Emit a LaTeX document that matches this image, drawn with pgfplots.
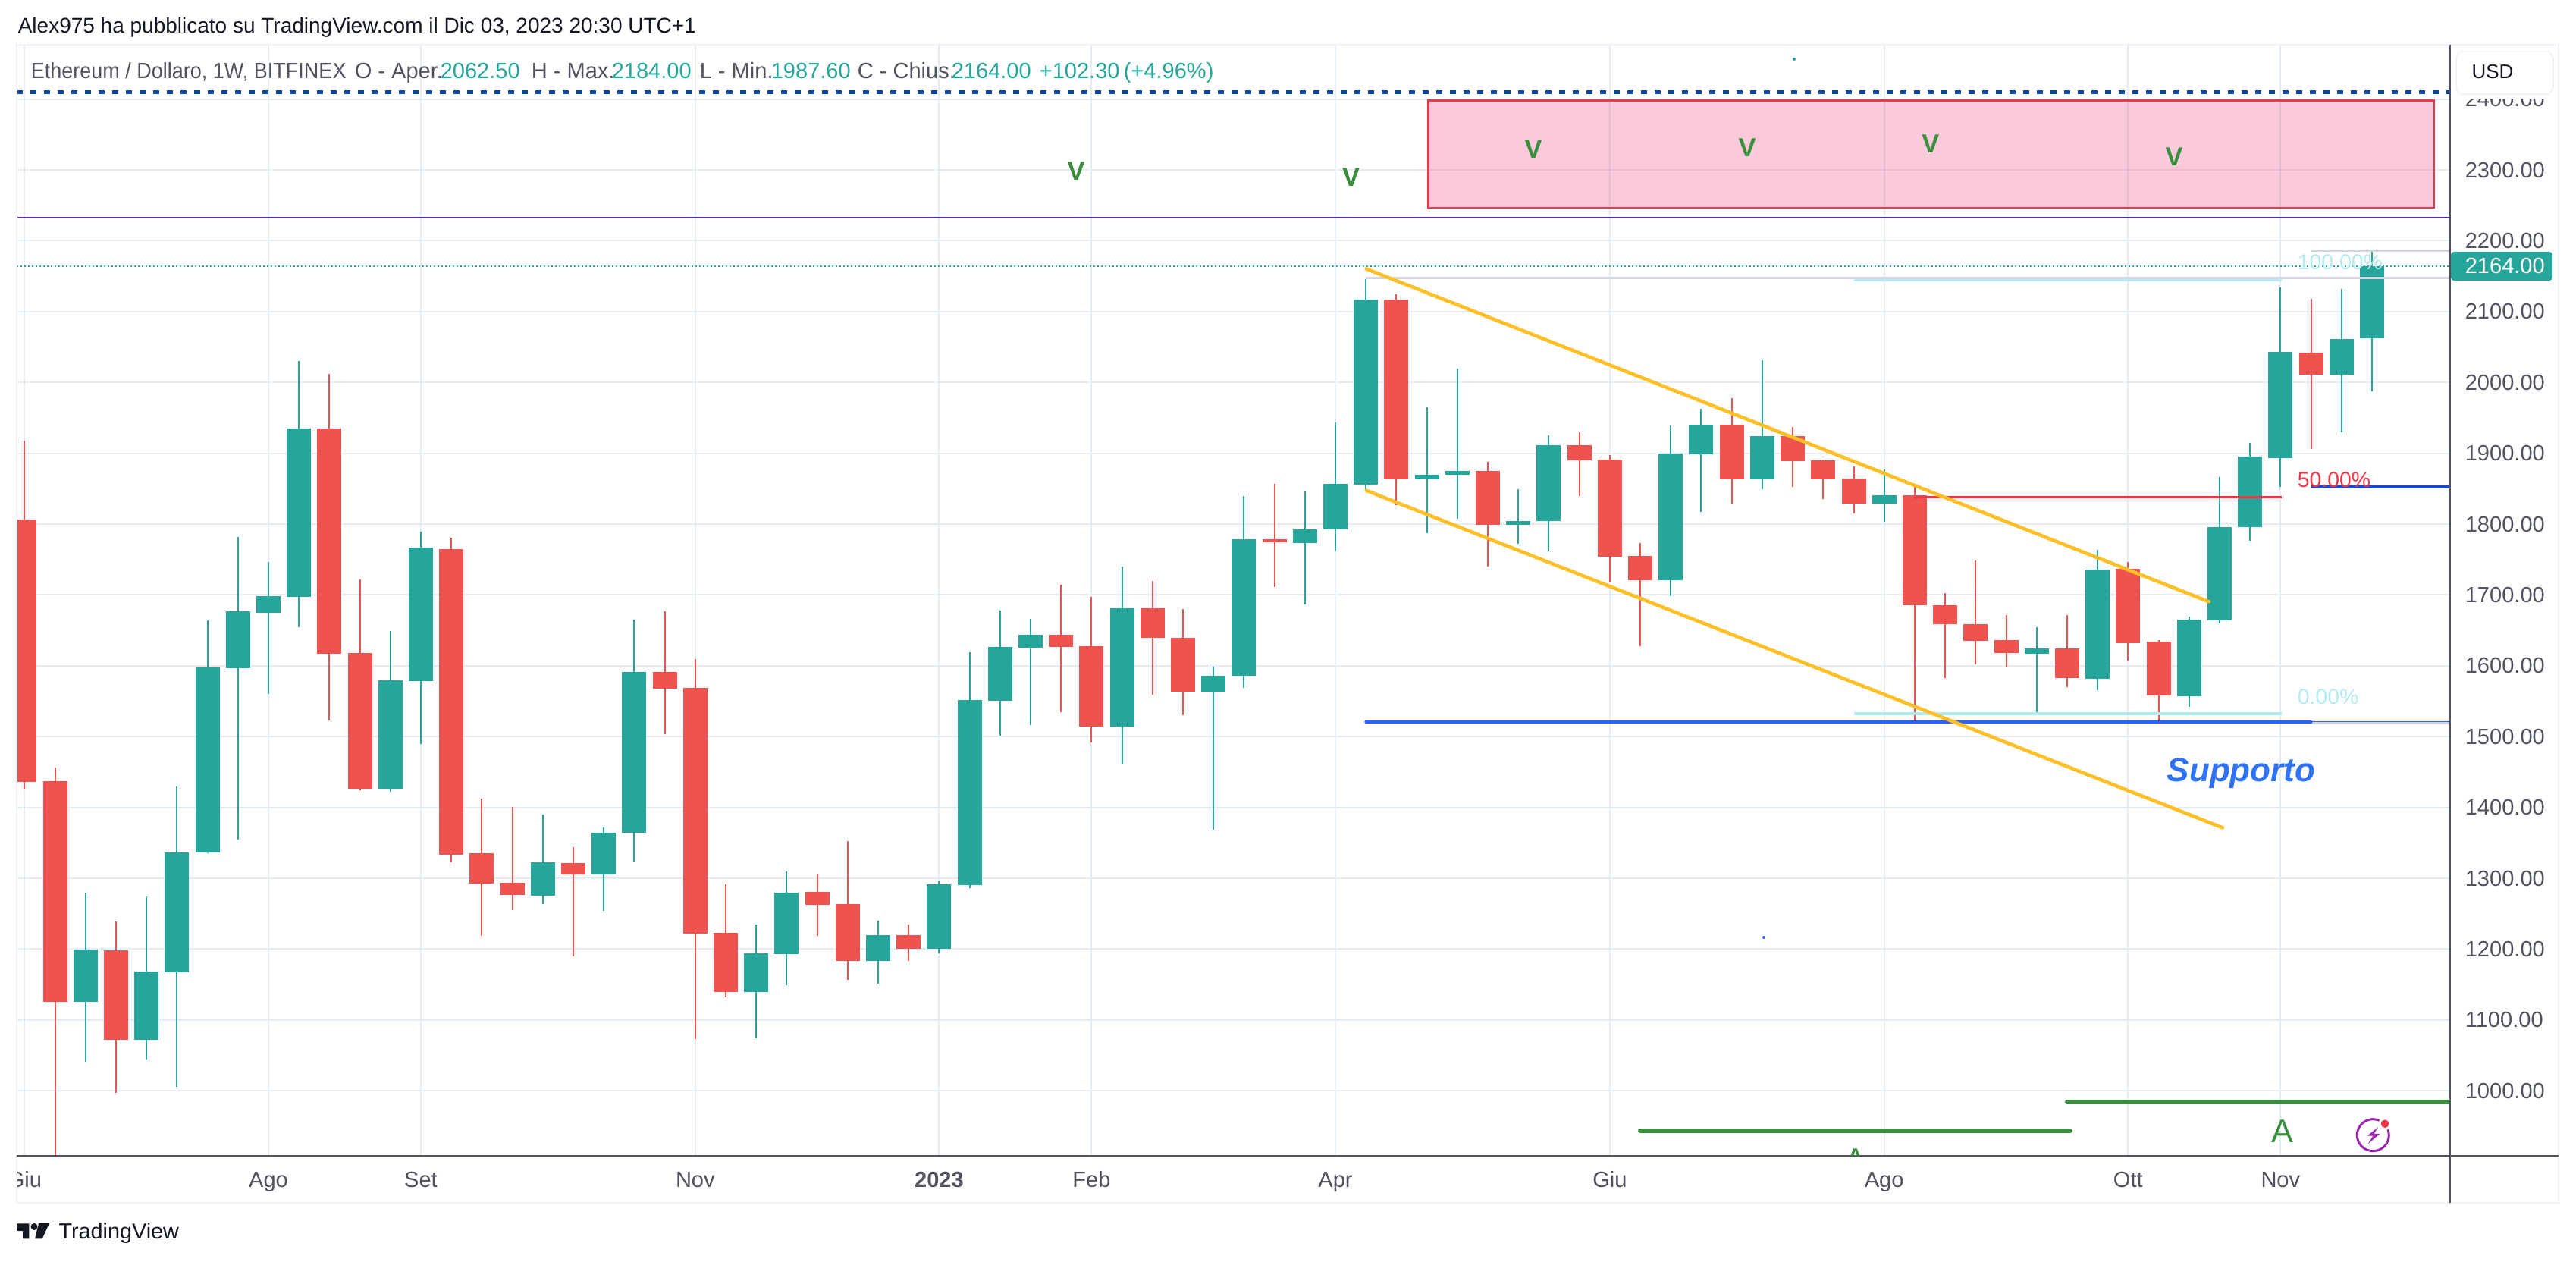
\documentclass[border=0pt]{standalone}
\usepackage{fontspec}
\setmainfont{Liberation Sans}
\usepackage{pgfplots}
\usepackage{pgfplotstable}
\pgfplotsset{compat=1.18}
\definecolor{up}{HTML}{26A69A}
\definecolor{dn}{HTML}{EF5350}
\definecolor{gridc}{HTML}{E3EDF3}
\definecolor{framec}{HTML}{F0F3FA}
\definecolor{axc}{HTML}{50535E}
\definecolor{ink}{HTML}{131722}
\definecolor{yel}{HTML}{FFBF26}
\definecolor{purp}{HTML}{512DA8}
\definecolor{dotb}{HTML}{0D47A1}
\definecolor{royal}{HTML}{2962FF}
\definecolor{supp}{HTML}{2E72FA}
\definecolor{dblue}{HTML}{1848CC}
\definecolor{redl}{HTML}{F23645}
\definecolor{cyanl}{HTML}{B2EBF2}
\definecolor{grayl}{HTML}{D1D4DC}
\definecolor{gr}{HTML}{388E3C}
\definecolor{pinkc}{HTML}{E91E63}
\definecolor{vio}{HTML}{9C27B0}
\newcommand\fs[1]{\fontsize{#1}{#1}\selectfont}
% i  open  high  low  close  (rising weeks)
\pgfplotstableread{
i o h l c
2 1125.6 1279.5 1041 1199.4
4 1072 1274 1044 1168
5 1167 1430 1006 1337
6 1337 1664 1335 1598
7 1597 1782 1355 1676.5
8 1675 1746 1560 1698
9 1697 2030 1654 1935
12 1426 1649 1422 1579
13 1578 1789 1490 1767
17 1275 1390 1264 1323
19 1305 1372 1254 1364
20 1364 1665 1324 1591
24 1140 1235 1074 1194
25 1192.6 1310 1149 1279.5
28 1183 1240.4 1151.6 1220
30 1201 1296 1194 1291.5
31 1290 1619.5 1286 1552
32 1551 1678 1501 1627
33 1626 1666 1516 1644
36 1514 1740.5 1461 1681
39 1563 1599 1369 1586
40 1586 1840 1569 1778.5
42 1773 1846.5 1687 1793
43 1793 1943 1763 1857
44 1856 2146 1846 2117
46 1863 1965.4 1787 1870
47 1870 2020 1808 1875
49 1799.4 1849 1772 1804
50 1804 1925 1761 1911
54 1721 1939 1698.6 1900
55 1899 1963 1817 1940
57 1863 2031 1849 1924
61 1829 1877 1803 1841
66 1617 1654.6 1533 1624.6
68 1581.7 1764 1566 1735.5
71 1557 1669 1542 1665
72 1664 1866 1660 1795.5
73 1795.5 1915 1777 1895
74 1893 2134 1853 2043
76 2011.5 2132 1930 2061
77 2062.5 2184 1987.6 2164
}\upT
% i  open  high  low  close  (falling weeks)
\pgfplotstableread{
i o h l c
0 1806 1918 1426 1436
1 1437 1456 880 1125.6
3 1198.3 1238.6 997 1072
10 1935 2012 1523 1616.5
11 1617.6 1722 1424 1426
14 1765 1781 1323 1333
15 1335 1412 1219 1293
16 1294 1401 1255 1276
18 1322 1344 1190 1305
21 1591.5 1676.5 1503 1568
22 1569 1609 1073 1221.6
23 1223 1291.5 1132 1140
26 1281 1306 1219 1262.5
27 1263.7 1352.6 1157 1183
29 1220 1235 1183 1201
34 1644 1714 1535 1627
35 1628 1697 1492 1514
37 1681 1720 1559 1639
38 1640 1680 1530 1563
41 1779 1857 1711 1774
45 2117 2125 1827 1863
48 1875 1888 1740.5 1799.4
51 1911 1930 1840 1889.5
52 1890.6 1898 1718 1753.5
53 1755 1773 1628 1721
56 1940 1978 1829 1863
58 1924 1937.5 1853 1889
59 1890.5 1891.6 1835 1863
60 1864 1881 1815 1829
62 1841 1857 1518 1685
63 1686 1703 1583 1658.6
64 1658.6 1748.5 1602 1635.4
65 1636 1671.6 1597.5 1618
67 1624.6 1671.6 1570 1583
69 1736.6 1746 1607 1632
70 1634 1636 1522 1558.5
75 2042 2118 1906 2011.5
}\dnT
\begin{document}
\begin{tikzpicture}
\path[use as bounding box] (0,0) rectangle (849.25pt,415.75pt);
\begin{axis}[
  at={(5.5pt,34.675pt)},anchor=south west,
  scale only axis,width=802pt,height=366.25pt,
  xmin=-0.2587,xmax=79.54,ymin=907.9,ymax=2476.4,
  axis line style={draw=none},
  tick style={draw=none},major tick length=0pt,
  grid=major,grid style={gridc,line width=0.5pt},
  ytick={1000,1100,...,2400},
  yticklabel pos=right,
  yticklabel style={anchor=west,xshift=5pt,inner sep=0pt,text=axc,font=\fs{7.26}},
  /pgf/number format/.cd,fixed,fixed zerofill,precision=2,1000 sep={},assume math mode=true,
  /pgfplots/.cd,
  xtick={0,8,13,22,30,35,43,52,61,69,74},
  xticklabels={Giu,Ago,Set,Nov,\textbf{2023},Feb,Apr,Giu,Ago,Ott,Nov},
  xticklabel style={anchor=base,yshift=-10.4pt,inner sep=0pt,text=axc,font=\fs{7.26}},
]
% pink zone
\addplot[draw=none,fill=pinkc,fill opacity=0.235,forget plot] coordinates {(46.05,2398) (79.04,2398) (79.04,2246.6) (46.05,2246.6)} --cycle;
% wicks and bodies
\addplot[draw=none,no markers,forget plot,error bars/.cd,y dir=plus,y explicit,error mark=none,error bar style={draw=up,line width=0.5pt}]
  table[x=i,y=l,y error plus expr=\thisrow{h}-\thisrow{l}] {\upT};
\addplot[draw=none,no markers,forget plot,error bars/.cd,y dir=plus,y explicit,error mark=none,error bar style={draw=dn,line width=0.5pt}]
  table[x=i,y=l,y error plus expr=\thisrow{h}-\thisrow{l}] {\dnT};
\addplot[draw=none,no markers,forget plot,error bars/.cd,y dir=plus,y explicit,error mark=none,error bar style={draw=up,line width=8pt}]
  table[x=i,y=o,y error plus expr=\thisrow{c}-\thisrow{o}] {\upT};
\addplot[draw=none,no markers,forget plot,error bars/.cd,y dir=plus,y explicit,error mark=none,error bar style={draw=dn,line width=8pt}]
  table[x=i,y=c,y error plus expr=\thisrow{o}-\thisrow{c}] {\dnT};
% pink zone outline
\addplot[draw=redl,line width=0.6pt,forget plot] coordinates {(46.05,2398) (79.04,2398) (79.04,2246.6) (46.05,2246.6)} --cycle;
% horizontal levels
\addplot[purp,line width=0.55pt,forget plot] coordinates {(-1,2233) (80,2233)};
\addplot[up,line width=0.5pt,dash pattern=on 0.5pt off 0.75pt,forget plot] coordinates {(-1,2164) (80,2164)};
\addplot[dotb,line width=1.4pt,dash pattern=on 2pt off 2.5pt,forget plot] coordinates {(-0.26,2409.6) (80,2409.6)};
\addplot[grayl,line width=0.8pt,forget plot] coordinates {(44,2147.5) (80,2147.5)};
\addplot[cyanl,line width=0.8pt,forget plot] coordinates {(60,2144.5) (74.05,2144.5)};
\addplot[grayl,line width=0.8pt,forget plot] coordinates {(75,2185.7) (80,2185.7)};
\addplot[dblue,line width=1pt,forget plot] coordinates {(75,1852) (80,1852)};
\addplot[redl,line width=0.8pt,forget plot] coordinates {(62,1838.5) (74.05,1838.5)};
\addplot[cyanl,line width=0.8pt,forget plot] coordinates {(60,1532.4) (74.05,1532.4)};
\addplot[grayl,line width=0.8pt,forget plot] coordinates {(75,1519.5) (80,1519.5)};
\addplot[royal,line width=1pt,line cap=round,forget plot] coordinates {(44,1521) (75,1521)};
\addplot[royal,line width=0.25pt,forget plot] coordinates {(75,1521.5) (80,1521.5)};
% channel
\addplot[yel,line width=1.15pt,line cap=round,forget plot] coordinates {(44.01,2160.4) (71.65,1690.5)};
\addplot[yel,line width=1.15pt,line cap=round,forget plot] coordinates {(44.01,1847.5) (72.1,1371.4)};
% green bars at the foot
\addplot[gr,line width=1.5pt,line cap=round,forget plot] coordinates {(67,984.7) (80,984.7)};
\addplot[gr,line width=1.5pt,line cap=round,forget plot] coordinates {(53,943.75) (67.1,943.75)};
\end{axis}
\begin{scope}[x=0.25pt,y=-0.25pt,shift={(0pt,415.75pt)}]
  % chrome
  \fill[white] (0,1530) rectangle (21,1580);
  \draw[framec,line width=0.5pt] (22,59) rectangle (3374,1586);
  \draw[axc,line width=0.55pt] (22,1524.3) -- (3374,1524.3);
  \draw[axc,line width=0.55pt] (3231,59) -- (3231,1586);
  % USD box
  \fill[white] (3239,110) rectangle (3367,130);
  \draw[framec,fill=white,line width=0.4pt,rounded corners=2.5pt] (3239,67.7) rectangle (3367,124.3);
  \node[anchor=center,inner sep=0pt,text=ink,font=\fs{6.5}] at (3287,95) {USD};
  % price tag
  \fill[up,rounded corners=1pt] (3232,332) rectangle (3366,370);
  \node[anchor=west,inner sep=0pt,text=white,font=\fs{7.26}] at (3250,351) {2164.00};
  % title
  \node[anchor=base west,inner sep=0pt,text=ink,font=\fs{7.0}] at (23,44) {Alex975 ha pubblicato su TradingView.com il Dic 03, 2023 20:30 UTC+1};
  % legend
  \node[anchor=base west,inner sep=0pt,text=axc,font=\fs{7.26}] at (40,103.7) {\scalebox{0.93}[1]{Ethereum / Dollaro, 1W, BITFINEX}};
  \node[anchor=base west,inner sep=0pt,text=axc,font=\fs{7.26}] at (467,103.7) {O - Aper.};
  \node[anchor=base west,inner sep=0pt,text=up,font=\fs{7.26}] at (580,103.7) {2062.50};
  \node[anchor=base west,inner sep=0pt,text=axc,font=\fs{7.26}] at (700,103.7) {H - Max.};
  \node[anchor=base west,inner sep=0pt,text=up,font=\fs{7.26}] at (806,103.7) {2184.00};
  \node[anchor=base west,inner sep=0pt,text=axc,font=\fs{7.26}] at (922,103.7) {L - Min.};
  \node[anchor=base west,inner sep=0pt,text=up,font=\fs{7.26}] at (1016,103.7) {1987.60};
  \node[anchor=base west,inner sep=0pt,text=axc,font=\fs{7.26}] at (1130,103.7) {C - Chius.};
  \node[anchor=base west,inner sep=0pt,text=up,font=\fs{7.26}] at (1254,103.7) {2164.00};
  \node[anchor=base west,inner sep=0pt,text=up,font=\fs{7.26}] at (1370,103.7) {+102.30};
  \node[anchor=base west,inner sep=0pt,text=up,font=\fs{7.26}] at (1481,103.7) {(+4.96\%)};
  % V letters
  \foreach \p in {(1419,226),(1781.5,234),(2022,197),(2304,195),(2545.7,190),(2867,207)}
    \node[anchor=center,inner sep=0pt,text=gr,font=\fs{8.6}\bfseries] at \p {V};
  % A letters
  \node[anchor=base,inner sep=0pt,text=gr,font=\fs{10.8}] at (3010,1506) {A};
  \begin{scope}
    \clip (2400,1400) rectangle (2500,1523);
    \node[anchor=base,inner sep=0pt,text=gr,font=\fs{10.8}] at (2447,1544) {A};
  \end{scope}
  % notes
  \node[anchor=west,inner sep=0pt,text=supp,font=\fs{11}\bfseries\itshape] at (2857,1020) {Supporto};
  \node[anchor=west,inner sep=0pt,text=cyanl,font=\fs{7.1}] at (3029,346) {100.00\%};
  \node[anchor=west,inner sep=0pt,text=redl,font=\fs{7.1}] at (3029,633) {50.00\%};
  \node[anchor=west,inner sep=0pt,text=cyanl,font=\fs{7.1}] at (3029,918.7) {0.00\%};
  % specks
  \fill[up] (2366,78) circle (2);
  \fill[royal] (2326,1236) circle (2);
  % lightning icon
  \draw[vio,line width=0.75pt] (3129.3,1496.7) circle (21);
  \fill[white] (3145,1481.7) circle (8.5);
  \fill[redl] (3145,1481.7) circle (5.3);
  \fill[vio] (3136,1486) -- (3121.7,1497.7) -- (3129.3,1497.7) -- (3122.7,1508.3) -- (3138.3,1495) -- (3130.7,1495) -- cycle;
  % logo
  \fill[ink] (22,1613.3) -- (38.3,1613.3) -- (38.3,1633.3) -- (30,1633.3) -- (30,1623) -- (22,1623) -- cycle;
  \fill[ink] (45,1617.5) circle (4.5);
  \fill[ink] (51,1613) -- (65,1613) -- (55.7,1633.3) -- (46,1633.3) -- cycle;
  \node[anchor=base west,inner sep=0pt,text=ink,font=\fs{7.2}] at (76.7,1633.3) {TradingView};
\end{scope}
\end{tikzpicture}
\end{document}
